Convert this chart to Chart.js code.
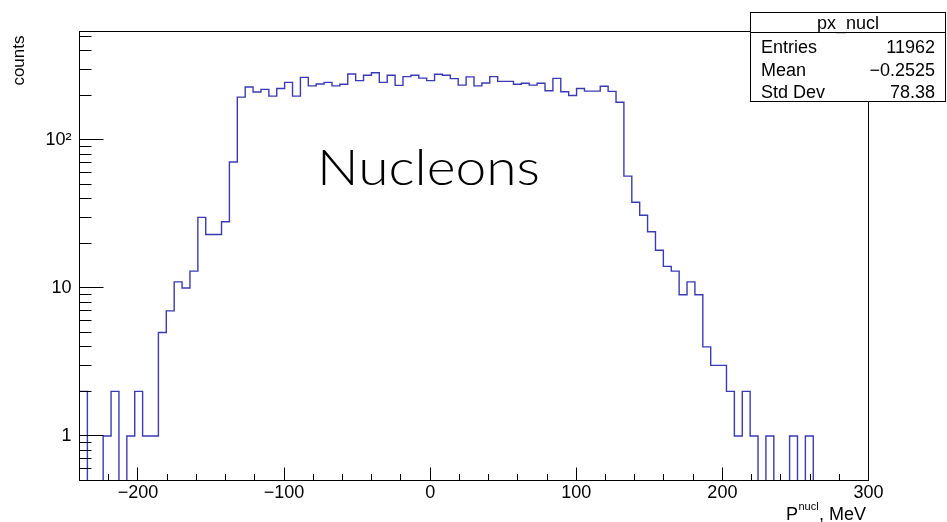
<!DOCTYPE html>
<html><head><meta charset="utf-8">
<script src="https://cdn.jsdelivr.net/npm/chart.js@4.4.1/dist/chart.umd.min.js"></script>
<style>html,body{margin:0;padding:0;background:#fff;}canvas{display:block;}</style>
</head><body>
<canvas id="c" width="947" height="522"></canvas>
<script>
// ---- data ----
const histName = 'px_nucl';
const binLow = -240;
const binHigh = 300;
const nBins = 100;
const counts = [
  2, 0, 0, 1, 2, 0, 1, 2, 1, 1,
  5, 7, 11, 10, 13, 30, 23, 23, 28, 71,
  195, 228, 211, 220, 198, 223, 245, 198, 265, 232,
  239, 245, 232, 238, 279, 252, 274, 285, 245, 274,
  234, 268, 274, 262, 252, 278, 274, 260, 235, 267,
  232, 243, 268, 249, 249, 238, 242, 235, 242, 215,
  261, 212, 200, 223, 214, 214, 231, 213, 180, 57,
  38, 31, 24, 18, 14, 13, 9, 11, 9, 4,
  3, 3, 2, 1, 2, 1, 0, 1, 0, 0,
  1, 0, 1, 0, 0, 0, 0, 0, 0, 0
];
const xTickValues = [-200, -100, 0, 100, 200, 300];
const xTickLabels = ['\u2212200', '\u2212100', '0', '100', '200', '300'];
const yTickValues = [1, 10, 100];
const yTickLabels = ['1', '10', '10\u00B2'];
const yMin = 0.5;
const yMax = 541;
const statsLabels = ['Entries', 'Mean', 'Std Dev'];
const statsValues = ['11962', '\u22120.2525', '78.38'];
const yTitle = 'counts';
const annotationText = 'Nucleons';

// ---- build dataset ----
const binWidth = (binHigh - binLow) / nBins;
const EMPTY = 0.2; // empty bins drop below the axis floor (clipped), as ROOT does
const steps = counts.map((c, i) => ({ x: binLow + i * binWidth, y: c > 0 ? c : EMPTY }));
steps.push({ x: binHigh, y: steps[steps.length - 1].y });

const FONT = "'Liberation Sans', Arial, Helvetica, sans-serif";

const rootPlugin = {
  id: 'rootStyle',
  afterDraw(chart) {
    const ctx = chart.ctx, a = chart.chartArea;
    const xs = chart.scales.x, ys = chart.scales.y;
    ctx.save();
    ctx.strokeStyle = '#000';
    ctx.lineWidth = 1;
    // frame
    ctx.strokeRect(a.left, a.top, a.right - a.left, a.bottom - a.top);
    // y ticks (inward)
    ctx.beginPath();
    for (let d = -1; d <= 2; d++) {
      for (let m = 1; m <= 9; m++) {
        const v = m * Math.pow(10, d);
        if (v < yMin || v > yMax) continue;
        const py = Math.floor(ys.getPixelForValue(v)) + 0.5;
        const len = (m === 1) ? 24 : 12;
        ctx.moveTo(a.left, py); ctx.lineTo(a.left + len, py);
      }
    }
    // x ticks (inward)
    for (let v = binLow + 20; v < binHigh + 1; v += 20) {
      const px = Math.floor(xs.getPixelForValue(v)) + 0.5;
      const len = (v % 100 === 0) ? 13 : 6.5;
      ctx.moveTo(px, a.bottom); ctx.lineTo(px, a.bottom - len);
    }
    ctx.stroke();

    ctx.fillStyle = '#000';
    // y title
    ctx.save();
    ctx.translate(24, a.top + 4);
    ctx.rotate(-Math.PI / 2);
    ctx.font = '17px ' + FONT;
    ctx.textAlign = 'right';
    ctx.textBaseline = 'alphabetic';
    ctx.fillText(yTitle, 0, 0);
    ctx.restore();

    // x title  P_x^nucl, MeV
    ctx.textBaseline = 'alphabetic';
    ctx.textAlign = 'left';
    ctx.font = '18px ' + FONT;
    ctx.fillText('P', 786, 520);
    ctx.font = '11px ' + FONT;
    ctx.fillText('nucl', 798.5, 510);
    ctx.fillText('x', 798.5, 528);
    ctx.font = '18px ' + FONT;
    ctx.textAlign = 'right';
    ctx.fillText(', MeV', 866, 520);

    // annotation
    ctx.font = "300 50px Lato, 'Open Sans', sans-serif";
    const w = ctx.measureText(annotationText).width;
    ctx.save();
    ctx.translate(317, 185);
    ctx.scale(223 / w, 1);
    ctx.textAlign = 'left';
    ctx.fillText(annotationText, 0, 0);
    ctx.restore();

    // stats box
    const bx = 750.5, by = 12.5, bw = 195, bh = 89;
    ctx.fillStyle = '#fff';
    ctx.fillRect(bx, by, bw, bh);
    ctx.strokeRect(bx, by, bw, bh);
    ctx.beginPath(); ctx.moveTo(bx, 32.5); ctx.lineTo(bx + bw, 32.5); ctx.stroke();
    ctx.fillStyle = '#000';
    ctx.font = '18px ' + FONT;
    ctx.textAlign = 'center';
    ctx.fillText(histName, bx + bw / 2, 29);
    const rowsY = [53, 75.5, 97.5];
    statsLabels.forEach((lab, i) => {
      ctx.textAlign = 'left';
      ctx.fillText(lab, 761, rowsY[i]);
      ctx.textAlign = 'right';
      ctx.fillText(statsValues[i], 935, rowsY[i]);
    });
    ctx.restore();
  }
};

new Chart(document.getElementById('c'), {
  type: 'line',
  data: {
    datasets: [{
      data: steps,
      stepped: 'before',
      borderColor: '#3a3ab5',
      borderWidth: 1.4,
      pointRadius: 0,
      fill: false,
      clip: 0,
      tension: 0
    }]
  },
  options: {
    responsive: false,
    animation: false,
    events: [],
    layout: { padding: { top: 31.5, right: 78.5, left: 0, bottom: 0 } },
    plugins: { legend: { display: false }, tooltip: { enabled: false } },
    scales: {
      x: {
        type: 'linear', min: binLow, max: binHigh,
        grid: { display: false, drawTicks: false },
        border: { display: false },
        afterBuildTicks: s => { s.ticks = xTickValues.map(v => ({ value: v })); },
        afterFit: s => { s.height = 41.5; },
        ticks: {
          padding: 2, maxRotation: 0, autoSkip: false,
          color: '#000', font: { family: FONT, size: 18 },
          callback: (v) => { const i = xTickValues.indexOf(v); return i >= 0 ? xTickLabels[i] : ''; }
        }
      },
      y: {
        type: 'logarithmic', min: yMin, max: yMax,
        grid: { display: false, drawTicks: false },
        border: { display: false },
        afterBuildTicks: s => { s.ticks = yTickValues.map(v => ({ value: v })); },
        afterFit: s => { s.width = 79.5; },
        ticks: {
          padding: 8, autoSkip: false,
          color: '#000', font: { family: FONT, size: 18 },
          callback: (v) => { const i = yTickValues.indexOf(v); return i >= 0 ? yTickLabels[i] : ''; }
        }
      }
    }
  },
  plugins: [rootPlugin]
});
</script>
</body></html>
